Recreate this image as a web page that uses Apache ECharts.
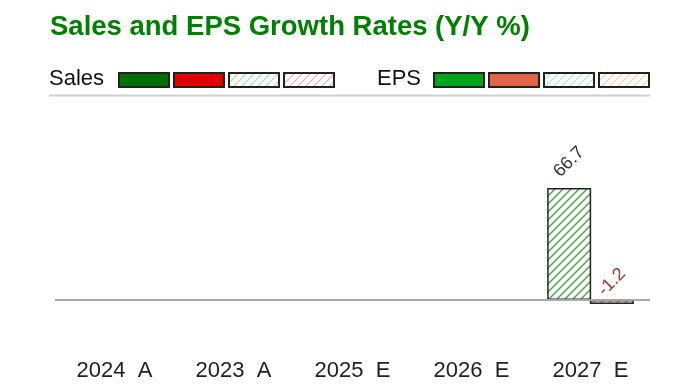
<!DOCTYPE html>
<html>
<head>
<meta charset="utf-8">
<script src="https://cdn.jsdelivr.net/npm/echarts@6/dist/echarts.min.js"></script>
<style>
  html, body { margin: 0; padding: 0; background: #fff; }
  #chart { width: 700px; height: 387px; }
</style>
</head>
<body>
<div id="chart"></div>
<script>
var categories = ['2024  A', '2023  A', '2025  E', '2026  E', '2027  E'];
var periodType = ['A', 'A', 'E', 'E', 'E'];
var salesGrowth = [null, null, null, null, 66.7];
var epsGrowth = [null, null, null, null, -1.2];

// diagonal hatch used for estimate bars
function hatch(lineColor, width) {
  var c = document.createElement('canvas');
  c.width = 8; c.height = 8;
  var ctx = c.getContext('2d');
  ctx.fillStyle = '#fff';
  ctx.fillRect(0, 0, 8, 8);
  ctx.strokeStyle = lineColor;
  ctx.lineWidth = width || 1.3;
  ctx.beginPath();
  ctx.moveTo(-2, 10); ctx.lineTo(10, -2);
  ctx.moveTo(-6, 6); ctx.lineTo(6, -6);
  ctx.moveTo(2, 14); ctx.lineTo(14, 2);
  ctx.stroke();
  return { image: c, repeat: 'repeat' };
}

var colors = {
  salesPos: '#007000',
  salesNeg: '#e00000',
  salesEstPos: hatch('#3fa63f', 1.4),
  salesEstNeg: hatch('#d88a8a', 1.3),
  epsPos: '#00a51e',
  epsNeg: '#e0664a',
  epsEstPos: hatch('#e08a2a', 1.3),
  epsEstNeg: hatch('#e08a2a', 1.3)
};
var legendSales = ['#007000', '#e00000', hatch('#a8dca8', 1.2), hatch('#e3b1b1', 1.2)];
var legendEps = ['#00a51e', '#e0664a', hatch('#a6f0b4', 1.2), hatch('#ffc999', 1.2)];

function barColor(prefix) {
  return function (p) {
    var est = periodType[p.dataIndex] === 'E';
    var pos = p.value >= 0;
    return colors[prefix + (est ? 'Est' : '') + (pos ? 'Pos' : 'Neg')];
  };
}

var font = '"Liberation Sans", Arial, sans-serif';
var graphics = [
  { type: 'text', left: 49, top: 68, style: { text: 'Sales', font: '22px ' + font, fill: '#111' } },
  { type: 'text', left: 377, top: 68, style: { text: 'EPS', font: '22px ' + font, fill: '#111' } },
  { type: 'line', shape: { x1: 49, y1: 95.5, x2: 650, y2: 95.5 }, style: { stroke: '#d0d0d0', lineWidth: 2 } }
];
[119, 174, 229, 284].forEach(function (x, i) {
  graphics.push({ type: 'rect', shape: { x: x, y: 73, width: 50, height: 14 }, style: { fill: legendSales[i], stroke: '#222', lineWidth: 2 } });
});
[434, 489, 544, 599].forEach(function (x, i) {
  graphics.push({ type: 'rect', shape: { x: x, y: 73, width: 50, height: 14 }, style: { fill: legendEps[i], stroke: '#222', lineWidth: 2 } });
});

var chart = echarts.init(document.getElementById('chart'));
chart.setOption({
  animation: false,
  title: {
    text: 'Sales and EPS Growth Rates (Y/Y %)',
    left: 45, top: 8,
    textStyle: { fontFamily: font, fontSize: 27.5, fontWeight: 'bold', color: '#008000' }
  },
  graphic: graphics,
  grid: { left: 55, right: 50, top: 98.4, height: 257.9, outerBoundsMode: 'none', containLabel: false },
  xAxis: {
    type: 'category',
    data: categories,
    axisLine: { show: false, onZero: false },
    axisTick: { show: false },
    axisLabel: { margin: 4, fontSize: 22, color: '#222', fontFamily: font }
  },
  yAxis: {
    type: 'value', min: -33.5, max: 120, show: false,
    splitLine: { show: false }
  },
  series: [
    {
      name: 'Sales', type: 'bar', data: salesGrowth,
      barWidth: 44, barGap: '-3%',
      itemStyle: { color: barColor('sales'), borderColor: '#222', borderWidth: 1.5 },
      label: {
        show: true, position: 'top', rotate: 45, distance: 26, align: 'center', verticalAlign: 'middle',
        fontSize: 18, color: '#333', fontFamily: font,
        formatter: function (p) { return p.value.toFixed(1); }
      },
      markLine: {
        silent: true, symbol: 'none', label: { show: false },
        lineStyle: { color: '#a8a8a8', width: 2, type: 'solid' },
        data: [{ yAxis: 0 }]
      }
    },
    {
      name: 'EPS', type: 'bar', data: epsGrowth,
      barWidth: 44, barMinHeight: 4,
      itemStyle: { color: barColor('eps'), borderColor: '#222', borderWidth: 1.5 },
      label: {
        show: true, position: 'top', rotate: 45, distance: 18, align: 'center', verticalAlign: 'middle',
        fontSize: 18, color: '#a83232', fontFamily: font,
        formatter: function (p) { return p.value.toFixed(1); }
      }
    }
  ]
});
</script>
</body>
</html>
